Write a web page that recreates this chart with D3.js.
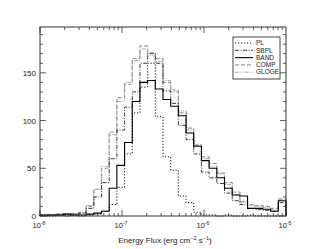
<!DOCTYPE html>
<html>
<head>
<meta charset="utf-8">
<script src="https://cdn.jsdelivr.net/npm/d3@7"></script>
<style>
  body { margin: 0; background: #fff; }
  text { font-family: "Liberation Sans", Arial, sans-serif; fill: #222; }
</style>
</head>
<body>
<div id="chart"></div>
<script>
// 32 log bins between 1e-8 and 1e-5
var nbins = 32;
var series_names = ["PL", "SBPL", "BAND", "COMP", "GLOGE"];

var pl_counts = [0, 0, 1, 0, 1, 0, 1, 2, 5, 12, 30, 65, 108, 135, 160, 104,
                 62, 48, 21, 14, 4, 1, 1, 0, 1, 0, 0, 1, 0, 0, 0, 0];
var sbpl_counts = [1, 1, 1, 2, 2, 3, 8, 20, 35, 60, 90, 114, 130, 160, 170, 160,
                   131, 118, 95, 80, 65, 46, 40, 34, 24, 16, 12, 8, 7, 6, 5, 14];
var band_counts = [1, 1, 1, 2, 1, 1, 2, 3, 5, 29, 53, 77, 120, 140, 142, 133,
                   122, 115, 105, 87, 73, 58, 50, 40, 29, 22, 21, 8, 8, 7, 5, 16];
var comp_counts = [1, 1, 2, 1, 2, 3, 10, 28, 50, 88, 124, 138, 165, 178, 171, 165,
                   140, 132, 108, 92, 74, 62, 55, 45, 35, 25, 15, 12, 11, 10, 8, 18];
var gloge_counts = [1, 1, 2, 2, 2, 4, 11, 28, 52, 85, 120, 140, 163, 175, 168, 162,
                    142, 130, 110, 90, 75, 60, 52, 44, 33, 22, 14, 11, 10, 9, 7, 17];

var y_ticks = [0, 50, 100, 150];
var x_ticks = [-8, -7, -6, -5];

var margin = { top: 27, right: 25, bottom: 33, left: 40 },
    width = 311 - margin.left - margin.right,
    height = 249 - margin.top - margin.bottom;

var svg = d3.select("#chart").append("svg")
    .attr("width", 311).attr("height", 249)
    .append("g")
    .attr("transform", "translate(" + margin.left + "," + margin.top + ")");

var x = d3.scaleLog().domain([1e-8, 1e-5]).range([0, width]);
var y = d3.scaleLinear().domain([0, 198]).range([height, 0]);

// bin edges
var edges = [];
for (var i = 0; i <= nbins; i++) edges.push(Math.pow(10, -8 + 3 * i / nbins));

function stepLine(counts) {
    var pts = [[edges[0], 0]];
    for (var i = 0; i < counts.length; i++) {
        pts.push([edges[i], counts[i]]);
        pts.push([edges[i + 1], counts[i]]);
    }
    pts.push([edges[nbins], 0]);
    return d3.line().x(function (d) { return x(d[0]); }).y(function (d) { return y(d[1]); })(pts);
}

var styles = {
    "PL":    { data: pl_counts,    color: "#111", dash: "1.2,1.8", w: 1 },
    "SBPL":  { data: sbpl_counts,  color: "#222", dash: "4,1.5,1,1.5", w: 0.9 },
    "BAND":  { data: band_counts,  color: "#000", dash: null, w: 1.1 },
    "COMP":  { data: comp_counts,  color: "#999", dash: "4,2", w: 1.2 },
    "GLOGE": { data: gloge_counts, color: "#aaa", dash: "4,1.2,1,1.2,1,1.2", w: 1 }
};

var draw_order = ["GLOGE", "COMP", "SBPL", "PL", "BAND"];
draw_order.forEach(function (name) {
    var s = styles[name];
    svg.append("path")
        .attr("d", stepLine(s.data))
        .attr("fill", "none")
        .attr("stroke", s.color)
        .attr("stroke-width", s.w)
        .attr("stroke-dasharray", s.dash);
});

// frame
svg.append("rect").attr("width", width).attr("height", height)
    .attr("fill", "none").attr("stroke", "#333").attr("stroke-width", 1);

// y ticks (inside, both sides)
for (var v = 0; v <= 190; v += 10) {
    var len = (v % 50 == 0) ? 6 : 3;
    svg.append("line").attr("x1", 0).attr("x2", len).attr("y1", y(v)).attr("y2", y(v))
        .attr("stroke", "#333").attr("stroke-width", 0.8);
    svg.append("line").attr("x1", width).attr("x2", width - len).attr("y1", y(v)).attr("y2", y(v))
        .attr("stroke", "#333").attr("stroke-width", 0.8);
}
y_ticks.forEach(function (v) {
    svg.append("text").attr("x", -4).attr("y", y(v) + 3)
        .attr("text-anchor", "end").style("font-size", "8px").text(v);
});

// x ticks (inside, top and bottom)
for (var e = -8; e < -5; e++) {
    for (var m = 1; m < 10; m++) {
        var xv = x(m * Math.pow(10, e));
        var len = (m == 1) ? 6 : 3;
        svg.append("line").attr("x1", xv).attr("x2", xv).attr("y1", height).attr("y2", height - len)
            .attr("stroke", "#333").attr("stroke-width", 0.8);
        svg.append("line").attr("x1", xv).attr("x2", xv).attr("y1", 0).attr("y2", len)
            .attr("stroke", "#333").attr("stroke-width", 0.8);
    }
}
x_ticks.forEach(function (e) {
    var t = svg.append("text").attr("x", x(Math.pow(10, e)) - 1).attr("y", height + 12)
        .attr("text-anchor", "middle").style("font-size", "7.5px");
    t.append("tspan").text("10");
    t.append("tspan").attr("dy", -3).style("font-size", "5px").text(e);
});

// axis title
var title = svg.append("text").attr("x", width / 2 + 2).attr("y", height + 27)
    .attr("text-anchor", "middle").style("font-size", "8px");
title.append("tspan").text("Energy Flux (erg cm");
title.append("tspan").attr("dy", -3).style("font-size", "5.5px").text("\u22122");
title.append("tspan").attr("dy", 3).text(" s");
title.append("tspan").attr("dy", -3).style("font-size", "5.5px").text("\u22121");
title.append("tspan").attr("dy", 3).text(")");

// legend
var lg = svg.append("g").attr("transform", "translate(" + (233 - margin.left) + "," + (37 - margin.top) + ")");
lg.append("rect").attr("width", 47).attr("height", 42)
    .attr("fill", "#fff").attr("stroke", "#333").attr("stroke-width", 0.9);
series_names.forEach(function (name, i) {
    var s = styles[name];
    var ly = 6 + i * 7.3;
    lg.append("line").attr("x1", 2).attr("x2", 20).attr("y1", ly).attr("y2", ly)
        .attr("stroke", s.color).attr("stroke-width", s.w).attr("stroke-dasharray", s.dash);
    lg.append("text").attr("x", 23).attr("y", ly + 2.2).style("font-size", "6.5px").text(name);
});
</script>
</body>
</html>
